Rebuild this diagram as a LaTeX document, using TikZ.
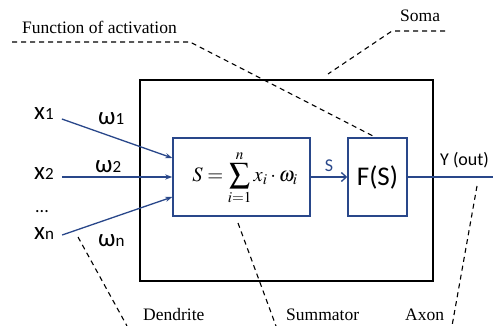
\documentclass[tikz,border=0pt]{standalone}
\usepackage{mathptmx}
\usepackage{fontspec}
\setmainfont{Liberation Serif}
\newfontfamily\calibri{Carlito}
\usetikzlibrary{arrows.meta}
\definecolor{netblue}{RGB}{41,71,138}
\begin{document}
\begin{tikzpicture}[
x=1pt, y=-1pt,
block/.style={draw=netblue, line width=1.4pt, minimum width=#1, minimum height=78pt, inner sep=0pt},
inlabel/.style={anchor=base west, inner sep=0pt, font=\calibri\fontsize{25}{28}\selectfont},
tag/.style={anchor=base west, inner sep=0pt, font=\fontsize{17.5}{20}\selectfont},
inarrow/.style={netblue, line width=1.3pt, -{Stealth[length=7pt,width=5pt]}},
pointer/.style={dashed, dash pattern=on 5pt off 4pt, line width=1.1pt}
]
\useasboundingbox (0,0) rectangle (493,326);
% neuron body
\node[draw, line width=1.3pt, minimum width=293pt, minimum height=201pt, inner sep=0pt] (soma) at (286.5,180.5) {};
\node[block=137pt] (sum) at (241.5,177) {};
\node[inner sep=0pt] (formula) at (245,178) {\fontsize{20.5}{24}\selectfont$\displaystyle S=\sum_{i=1}^{n}x_i\cdot\omega_i$};
\node[block=59pt, font=\calibri\fontsize{27}{30}\selectfont] (act) at (377.5,177) {F(S)};
\coordinate (out) at (493,177);
% inputs and weights
\node[inlabel] (x1) at (34,120) {x{\fontsize{17}{20}\selectfont 1}};
\node[inlabel] (x2) at (34,180) {x{\fontsize{17}{20}\selectfont 2}};
\node[inlabel, font=\calibri\fontsize{18}{20}\selectfont] (dots) at (35,213) {...};
\node[inlabel] (xn) at (34,240) {x{\fontsize{17}{20}\selectfont n}};
\node[inlabel] (w1) at (98,125) {ω{\fontsize{17}{20}\selectfont 1}};
\node[inlabel] (w2) at (95,173) {ω{\fontsize{17}{20}\selectfont 2}};
\node[inlabel] (wn) at (98,247) {ω{\fontsize{17}{20}\selectfont n}};
\draw[inarrow] ([xshift=8pt,yshift=1pt]x1.base east) -- ([yshift=19pt]sum.west);
\draw[inarrow] ([xshift=8pt,yshift=3pt]x2.base east) -- (sum.west);
\draw[inarrow] ([xshift=8pt,yshift=5pt]xn.base east) -- ([yshift=-20pt]sum.west);
% signal and output
\draw[netblue, line width=1.3pt, -{Straight Barb[length=5pt,width=9pt]}] (sum) -- node[above=1pt, font=\calibri\fontsize{18}{20}\selectfont] (slab) {S} (act);
\draw[netblue, line width=1.3pt] (act) -- (out);
\node[inlabel, font=\calibri\fontsize{18}{20}\selectfont] (ylab) at (440,166) {Y (out)};
% labels with dashed pointers
\node[tag] (fnlab) at (22,34) {Function of activation};
\node[tag] (somalab) at (400,22) {Soma};
\node[tag] (denlab) at (143,320) {Dendrite};
\node[tag] (sumlab) at (286,320) {Summator};
\node[tag] (axlab) at (405,320) {Axon};
\coordinate (fn1) at (12,42);
\coordinate (fn2) at (190,42);
\coordinate (so1) at (445,31);
\coordinate (so2) at (392,31);
\coordinate (so3) at (328,74);
\coordinate (de1) at (78,237);
\coordinate (de2) at (127,326);
\coordinate (su1) at (238,223);
\coordinate (su2) at (276,326);
\coordinate (ax1) at (477,186);
\coordinate (ax2) at (452,326);
\draw[pointer] (fn1) -- (fn2) -- ([xshift=-2pt]act.north);
\draw[pointer] (so1) -- (so2) -- (so3);
\draw[pointer] (de1) -- (de2);
\draw[pointer] (su1) -- (su2);
\draw[pointer] (ax1) -- (ax2);
\end{tikzpicture}
\end{document}
